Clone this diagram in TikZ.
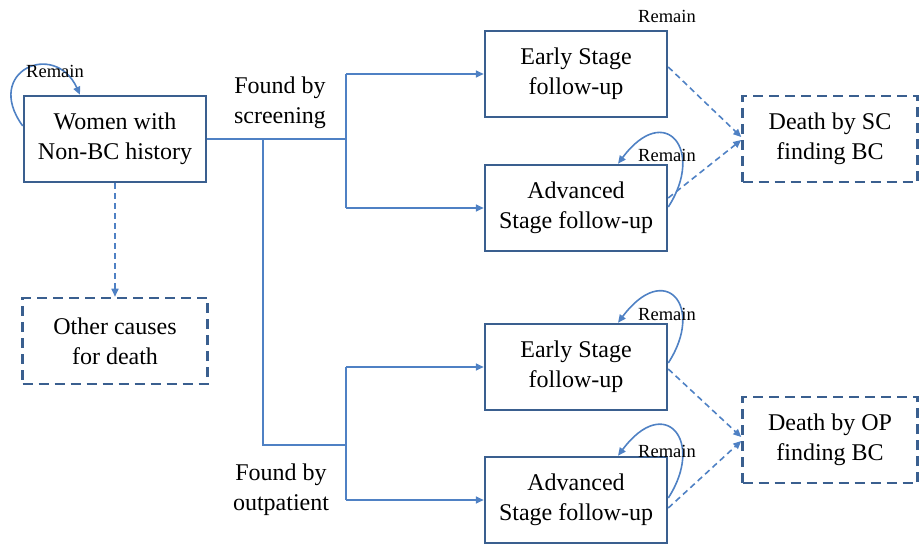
\documentclass[tikz,border=0pt]{standalone}
\usepackage{fontspec}
\setmainfont{Liberation Serif}
\usetikzlibrary{arrows.meta,calc}
\definecolor{boxblue}{HTML}{3A5F8F}
\definecolor{linkblue}{HTML}{4F81C4}
\tikzset{
  statebox/.style={draw=boxblue, line width=2.5pt, rectangle, minimum width=182pt,
    minimum height=86pt, align=center, font=\fontsize{24}{30}\selectfont, inner sep=2pt},
  endbox/.style={statebox, dash pattern=on 10pt off 6pt},
  conn/.style={draw=linkblue, line width=1.6pt},
  arr/.style={conn, -{Triangle[length=8pt,width=7pt]}},
  darr/.style={arr, dash pattern=on 6pt off 4pt},
  lbl/.style={align=center, font=\fontsize{24}{30}\selectfont, inner sep=0pt},
  small/.style={font=\fontsize{18.5}{20}\selectfont, inner sep=0pt}
}
\begin{document}
\begin{tikzpicture}[x=1pt,y=-1pt]
\useasboundingbox (0,0) rectangle (921,545);

% states
\node[statebox] (women) at (115,139) {Women with\\Non-BC history};
\node[endbox, minimum width=185pt] (other) at (115,341) {Other causes\\for death};
\node[statebox] (earlysc) at (576,74) {Early Stage\\follow-up};
\node[statebox] (advsc) at (576,208) {Advanced\\Stage follow-up};
\node[statebox] (earlyop) at (576,367) {Early Stage\\follow-up};
\node[statebox] (advop) at (576,500) {Advanced\\Stage follow-up};
\node[endbox, minimum width=175pt] (deathsc) at (830,139) {Death by SC\\finding BC};
\node[endbox, minimum width=175pt] (deathop) at (830,440) {Death by OP\\finding BC};

% branching points
\coordinate (jsc) at (346,139);
\coordinate (jsplit) at (263,139);
\coordinate (jop) at (346,445);

% detection routes
\draw[conn] (women.east) -- (jsc);
\draw[conn] (jsc |- earlysc.west) -- (jsc |- advsc.west);
\draw[arr] (jsc |- earlysc.west) -- (earlysc.west);
\draw[arr] (jsc |- advsc.west) -- (advsc.west);
\draw[conn] (jsplit) -- (jsplit |- jop) -- (jop);
\draw[conn] (jop |- earlyop.west) -- (jop |- advop.west);
\draw[arr] (jop |- earlyop.west) -- (earlyop.west);
\draw[arr] (jop |- advop.west) -- (advop.west);

\node[lbl] (fscr) at (280,103) {Found by\\screening};
\node[lbl] (fop) at (281,490) {Found by\\outpatient};

% deaths
\draw[darr] (women.south) -- (other.north);
\draw[darr] ([yshift=7pt]earlysc.east) -- ([yshift=2pt]deathsc.west);
\draw[darr] ([yshift=10pt]advsc.east) -- ([yshift=-1pt]deathsc.west);
\draw[darr] ([yshift=-2pt]earlyop.east) -- ([yshift=3pt]deathop.west);
\draw[darr] ([yshift=-8pt]advop.east) -- ([yshift=-1pt]deathop.west);

% remaining in a state
\draw[arr] ([yshift=13pt]women.west) .. controls +(-40,-55) and +(-25,-55) .. ([xshift=-35pt]women.north);
\draw[arr] ([yshift=1pt]advsc.east) .. controls +(37,-57) and +(47,-63) .. ([xshift=42pt]advsc.north);
\draw[arr] ([yshift=4pt]earlyop.east) .. controls +(37,-57) and +(47,-63) .. ([xshift=42pt]earlyop.north);
\draw[arr] ([yshift=2pt]advop.east) .. controls +(37,-57) and +(47,-63) .. ([xshift=42pt]advop.north);

\node[small] (rw) at (55,71) {Remain};
\node[small] (res) at (667,16) {Remain};
\node[small] (ras) at (667,155) {Remain};
\node[small] (reo) at (667,314) {Remain};
\node[small] (rao) at (667,451) {Remain};
\end{tikzpicture}
\end{document}
